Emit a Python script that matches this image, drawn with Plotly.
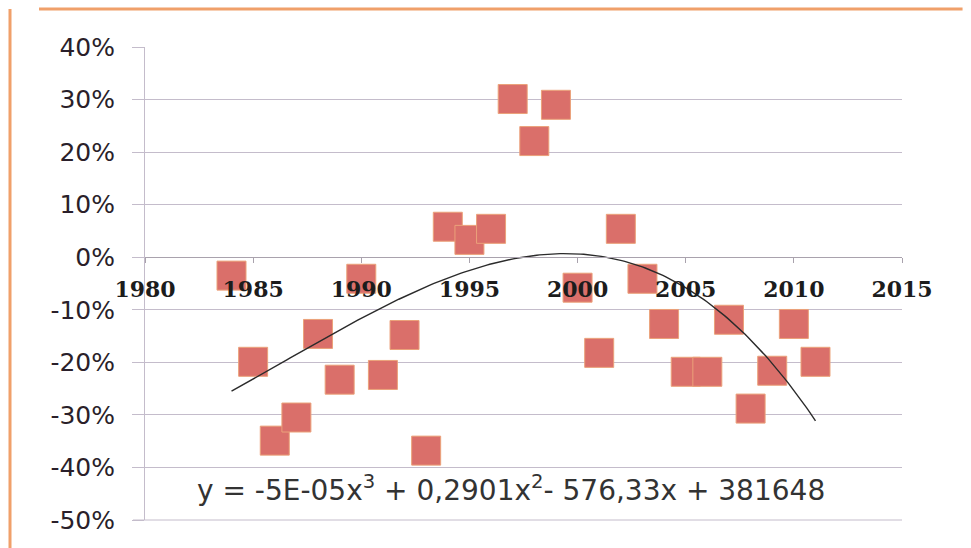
import numpy as np
import plotly.graph_objects as go

# Yearly change, 1984-2011
years = [1984, 1985, 1986, 1987, 1988, 1989, 1990, 1991, 1992, 1993,
         1994, 1995, 1996, 1997, 1998, 1999, 2000, 2001, 2002, 2003,
         2004, 2005, 2006, 2007, 2008, 2009, 2010, 2011]
change = [-3.5, -19.9, -34.9, -30.5, -14.6, -23.3, -4.1, -22.4, -14.8, -36.8,
          5.8, 3.3, 5.4, 30.1, 22.1, 29.0, -5.8, -18.2, 5.4, -4.1,
          -12.7, -21.8, -21.8, -11.9, -28.8, -21.6, -12.7, -19.9]
change = [v / 100 for v in change]

x_ticks = [1980, 1985, 1990, 1995, 2000, 2005, 2010, 2015]
y_ticks = [-0.5, -0.4, -0.3, -0.2, -0.1, 0.0, 0.1, 0.2, 0.3, 0.4]
y_tick_text = ["-50%", "-40%", "-30%", "-20%", "-10%", "0%", "10%", "20%", "30%", "40%"]
equation = "y = -5E-05x<sup>3</sup> + 0,2901x<sup>2</sup>- 576,33x + 381648"

# Third-order polynomial trend through the points
xs = np.array(years, dtype=float)
coef = np.polyfit(xs - 2000.0, np.array(change), 3)
x_fit = np.linspace(xs.min(), xs.max(), 200)
y_fit = np.polyval(coef, x_fit - 2000.0)

grid_col = "#c4bccb"
marker_col = "#da6f6a"

fig = go.Figure()
fig.add_trace(go.Scatter(
    x=years, y=change, mode="markers",
    marker=dict(symbol="square", size=29, color=marker_col,
                line=dict(color="#eba27a", width=1)),
    hoverinfo="x+y", showlegend=False,
))
fig.add_trace(go.Scatter(
    x=x_fit, y=y_fit, mode="lines",
    line=dict(color="#2b2b2b", width=1.4),
    hoverinfo="skip", showlegend=False,
))

fig.update_layout(
    width=971, height=548,
    margin=dict(l=145, r=69, t=47, b=28),
    paper_bgcolor="white", plot_bgcolor="white",
    showlegend=False,
    xaxis=dict(
        range=[1980, 2015], tickvals=x_ticks, ticktext=[str(v) for v in x_ticks],
        showgrid=False, zeroline=False,
        showline=True, linecolor="#a9a2ad", linewidth=1,
        ticks="outside", ticklen=5, tickcolor="#a9a2ad",
        anchor="free", position=5 / 9, layer="above traces",
        tickfont=dict(family="DejaVu Serif", size=22, color="#1c1c1c", weight="bold"),
        ticklabelstandoff=7,
    ),
    yaxis=dict(
        range=[-0.5, 0.4], tickvals=y_ticks, ticktext=y_tick_text,
        showgrid=True, gridcolor=grid_col, gridwidth=1,
        zeroline=False,
        showline=True, linecolor=grid_col, linewidth=1,
        ticks="outside", ticklen=12, tickcolor=grid_col,
        tickfont=dict(family="DejaVu Sans", size=25, color="#2a1f2a"),
        ticklabelstandoff=12,
    ),
    annotations=[dict(
        x=(511 - 145) / 757, y=-0.44, xref="paper", yref="y",
        text=equation, showarrow=False,
        font=dict(family="DejaVu Sans", size=28, color="#333333"),
        xanchor="center", yanchor="middle",
    )],
    shapes=[
        # bottom gridline at -50%
        dict(type="line", xref="paper", yref="paper", x0=-12 / 757, x1=1.0,
             y0=0, y1=0, layer="below",
             line=dict(color=grid_col, width=1)),
        # chart frame
        dict(type="line", xref="paper", yref="paper", x0=-0.14, x1=1.08,
             y0=1.0 + 38 / 473, y1=1.0 + 38 / 473,
             line=dict(color="#f0a06a", width=3)),
        dict(type="line", xref="paper", yref="paper", x0=-135 / 757, x1=-135 / 757,
             y0=-0.06, y1=1.0 + 38 / 473,
             line=dict(color="#f0a06a", width=3)),
    ],
)

fig.write_html("out.html")
